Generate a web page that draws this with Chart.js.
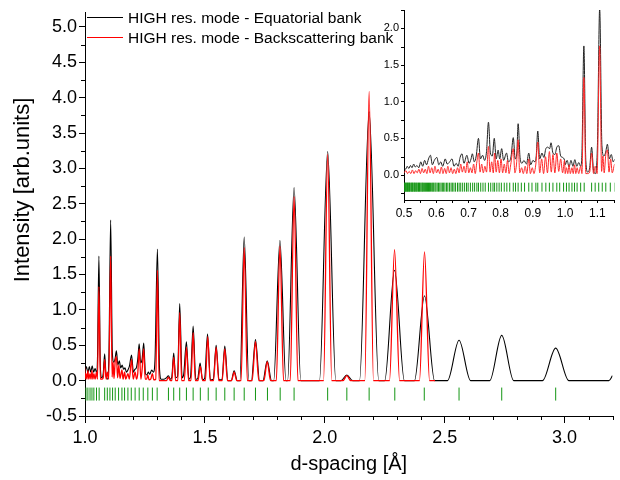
<!DOCTYPE html>
<html>
<head>
<meta charset="utf-8">
<script src="https://cdn.jsdelivr.net/npm/chart.js@4.4.1/dist/chart.umd.min.js"></script>
<style>
  html, body { margin: 0; padding: 0; background: #fff; }
  #wrap { position: relative; width: 620px; height: 480px; }
  #main { position: absolute; left: 0; top: 0; }
  #inset { position: absolute; left: 360px; top: 0; }
</style>
</head>
<body>
<div id="wrap">
  <canvas id="main" width="620" height="480"></canvas>
  <canvas id="inset" width="260" height="230"></canvas>
</div>
<script>
// [d-spacing, intensity]
const equatorial = [
  [0.500,0.10],[0.505,0.08],[0.510,0.12],[0.515,0.09],[0.520,0.13],[0.525,0.10],[0.530,0.15],[0.535,0.11],
  [0.540,0.13],[0.546,0.10],[0.552,0.18],[0.558,0.12],[0.564,0.20],[0.570,0.14],[0.576,0.22],[0.582,0.27],
  [0.588,0.14],[0.594,0.20],[0.602,0.24],[0.608,0.14],[0.614,0.18],[0.620,0.12],[0.628,0.22],[0.634,0.15],
  [0.640,0.17],[0.649,0.22],[0.655,0.12],[0.662,0.16],[0.668,0.12],[0.674,0.24],[0.680,0.29],[0.686,0.16],
  [0.695,0.27],[0.702,0.16],[0.708,0.22],[0.712,0.29],[0.718,0.18],[0.724,0.26],[0.731,0.50],[0.737,0.22],
  [0.744,0.27],[0.750,0.20],[0.756,0.32],[0.762,0.72],[0.768,0.30],[0.774,0.26],[0.780,0.50],[0.786,0.22],
  [0.792,0.34],[0.797,0.22],[0.803,0.36],[0.809,0.20],[0.818,0.30],[0.824,0.18],[0.832,0.25],[0.839,0.51],
  [0.845,0.22],[0.850,0.30],[0.854,0.70],[0.860,0.24],[0.866,0.16],[0.872,0.20],[0.880,0.15],[0.887,0.30],
  [0.893,0.14],[0.900,0.20],[0.906,0.18],[0.910,0.25],[0.915,0.60],[0.921,0.22],[0.928,0.30],[0.934,0.24],
  [0.940,0.36],[0.946,0.38],[0.952,0.36],[0.956,0.44],[0.962,0.30],[0.968,0.28],[0.974,0.38],[0.980,0.40],
  [0.986,0.26],[0.992,0.24],[0.998,0.20],
  [1.000,0.14],[1.006,0.20],[1.012,0.11],[1.018,0.20],[1.024,0.12],[1.030,0.21],[1.036,0.12],[1.042,0.17],
  [1.048,0.12],[1.052,0.30],[1.058,1.76],[1.064,0.20],[1.070,0.04],[1.076,0.10],[1.082,0.38],[1.088,0.06],
  [1.094,0.02],[1.100,0.40],[1.107,2.27],[1.114,0.40],[1.120,0.26],[1.125,0.30],[1.131,0.42],[1.137,0.22],
  [1.143,0.28],[1.149,0.18],[1.155,0.22],[1.161,0.16],[1.167,0.18],[1.173,0.12],[1.179,0.15],[1.185,0.20],
  [1.194,0.36],[1.202,0.12],[1.208,0.16],[1.214,0.18],[1.220,0.30],[1.226,0.52],[1.232,0.25],[1.238,0.30],
  [1.245,0.53],[1.252,0.10],[1.258,0.08],[1.264,0.12],[1.270,0.09],[1.278,0.15],[1.285,0.12],[1.292,0.30],
  [1.302,1.86],[1.311,0.15],[1.318,0.02],[1.330,0.02],[1.340,0.04],[1.348,0.07],[1.356,0.02],[1.362,0.05],
  [1.370,0.39],[1.378,0.04],[1.386,0.06],[1.395,1.09],[1.405,0.04],[1.412,0.10],[1.423,0.55],[1.433,0.02],
  [1.440,0.05],[1.451,0.77],[1.462,0.02],[1.470,0.03],[1.480,0.25],[1.490,0.01],[1.499,0.03],[1.511,0.66],
  [1.523,0.01],[1.535,0.02],[1.547,0.50],[1.559,0.01],[1.571,0.01],[1.583,0.49],[1.596,0.00],[1.610,0.00],
  [1.622,0.14],[1.635,0.00],[1.646,0.00],[1.664,2.03],[1.683,0.00],[1.694,0.00],[1.711,0.58],[1.728,0.00],
  [1.742,0.00],[1.760,0.28],[1.778,0.00],[1.787,0.00],[1.813,1.98],[1.838,0.00],[1.845,0.00],[1.872,2.73],
  [1.900,0.00],[1.978,0.00],[2.012,3.24],[2.046,0.00],[2.068,0.00],[2.092,0.08],[2.116,0.00],[2.145,0.00],
  [2.185,3.80],[2.225,0.00],[2.250,0.00],[2.291,1.56],[2.332,0.00],[2.374,0.00],[2.416,1.20],[2.458,0.00],
  [2.512,0.00],[2.560,0.57],[2.608,0.00],[2.688,0.00],[2.738,0.64],[2.788,0.00],[2.908,0.00],[2.963,0.46],
  [3.018,0.00],[3.185,0.00],[3.200,0.07]
];

const backscattering = [
  [0.500,0.03],[0.506,0.06],[0.511,0.02],[0.516,0.05],[0.521,0.02],[0.526,0.07],[0.531,0.02],[0.536,0.06],
  [0.541,0.03],[0.546,0.08],[0.551,0.02],[0.556,0.09],[0.561,0.03],[0.566,0.08],[0.571,0.02],[0.576,0.12],
  [0.581,0.03],[0.586,0.10],[0.591,0.02],[0.596,0.12],[0.601,0.03],[0.606,0.08],[0.611,0.02],[0.616,0.11],
  [0.621,0.02],[0.626,0.09],[0.631,0.02],[0.636,0.12],[0.641,0.03],[0.646,0.10],[0.651,0.02],[0.656,0.08],
  [0.661,0.02],[0.666,0.10],[0.671,0.03],[0.676,0.15],[0.681,0.04],[0.686,0.12],[0.691,0.03],[0.696,0.18],
  [0.701,0.03],[0.706,0.10],[0.711,0.03],[0.716,0.15],[0.721,0.02],[0.726,0.18],[0.731,0.30],[0.736,0.04],
  [0.741,0.15],[0.746,0.03],[0.751,0.12],[0.756,0.04],[0.762,0.39],[0.767,0.04],[0.772,0.18],[0.777,0.03],
  [0.781,0.30],[0.786,0.04],[0.791,0.20],[0.796,0.03],[0.801,0.22],[0.806,0.03],[0.811,0.15],[0.816,0.03],
  [0.821,0.20],[0.826,0.02],[0.831,0.14],[0.839,0.36],[0.844,0.03],[0.849,0.15],[0.854,0.48],[0.859,0.03],
  [0.865,0.10],[0.870,0.02],[0.876,0.12],[0.881,0.02],[0.887,0.22],[0.892,0.02],[0.898,0.10],[0.903,0.02],
  [0.909,0.15],[0.915,0.45],[0.921,0.03],[0.927,0.22],[0.933,0.02],[0.939,0.25],[0.945,0.03],[0.951,0.32],
  [0.957,0.04],[0.962,0.28],[0.968,0.03],[0.974,0.30],[0.980,0.05],[0.986,0.22],[0.992,0.03],[0.998,0.20],
  [1.000,0.02],[1.004,0.10],[1.008,0.02],[1.012,0.14],[1.016,0.02],[1.021,0.10],[1.025,0.02],[1.029,0.14],
  [1.033,0.02],[1.037,0.10],[1.042,0.02],[1.048,0.12],[1.052,0.02],[1.058,1.33],[1.064,0.02],[1.070,0.02],
  [1.076,0.04],[1.082,0.30],[1.088,0.02],[1.093,0.12],[1.099,0.02],[1.107,1.76],[1.113,0.05],[1.117,0.26],
  [1.121,0.03],[1.126,0.28],[1.131,0.34],[1.136,0.04],[1.141,0.22],[1.146,0.03],[1.154,0.15],[1.159,0.02],
  [1.165,0.12],[1.170,0.02],[1.179,0.10],[1.185,0.02],[1.194,0.30],[1.201,0.02],[1.209,0.12],[1.215,0.02],
  [1.220,0.10],[1.226,0.45],[1.233,0.02],[1.238,0.15],[1.245,0.45],[1.251,0.02],[1.257,0.02],[1.262,0.08],
  [1.267,0.01],[1.274,0.02],[1.281,0.10],[1.287,0.01],[1.295,0.02],[1.302,1.56],[1.309,0.00],[1.340,0.00],
  [1.348,0.05],[1.356,0.00],[1.362,0.00],[1.370,0.33],[1.378,0.00],[1.387,0.00],[1.395,0.96],[1.403,0.00],
  [1.414,0.00],[1.423,0.47],[1.432,0.00],[1.442,0.00],[1.451,0.68],[1.460,0.00],[1.471,0.00],[1.481,0.20],
  [1.491,0.00],[1.502,0.00],[1.512,0.62],[1.522,0.00],[1.536,0.00],[1.547,0.47],[1.558,0.00],[1.572,0.00],
  [1.583,0.45],[1.594,0.00],[1.611,0.00],[1.622,0.12],[1.633,0.00],[1.651,0.00],[1.664,1.88],[1.677,0.00],
  [1.697,0.00],[1.711,0.55],[1.725,0.00],[1.746,0.00],[1.760,0.27],[1.774,0.00],[1.798,0.00],[1.813,1.90],
  [1.828,0.00],[1.856,0.00],[1.872,2.60],[1.888,0.00],[1.995,0.00],[2.012,3.20],[2.029,0.00],[2.076,0.00],
  [2.092,0.07],[2.108,0.00],[2.167,0.00],[2.185,4.09],[2.203,0.00],[2.270,0.00],[2.291,1.85],[2.312,0.00],
  [2.395,0.00],[2.416,1.82],[2.437,0.00],[2.460,0.00]
];

// Bragg reflection positions (green ticks)
const braggD = [
  0.501,0.503,0.505,0.507,0.509,0.511,0.513,0.515,0.517,0.519,0.522,0.524,0.526,0.528,0.531,0.533,0.535,
  0.538,0.540,0.543,0.545,0.548,0.550,0.553,0.556,0.558,0.561,0.564,0.567,0.570,0.573,0.576,0.579,0.582,
  0.586,0.589,0.592,0.596,0.599,0.603,0.607,0.611,0.615,0.619,0.623,0.627,0.632,0.636,0.641,0.646,0.650,
  0.655,0.660,0.666,0.671,0.676,0.682,0.688,0.694,0.699,0.706,0.713,0.719,0.726,0.731,0.738,0.745,0.752,
  0.762,0.769,0.776,0.781,0.788,0.795,0.802,0.811,0.819,0.828,0.839,0.846,0.854,0.864,0.874,0.887,0.897,
  0.909,0.915,0.928,0.940,0.951,0.962,0.974,0.983,0.995,
  1.004,1.012,1.021,1.029,1.037,1.048,1.059,1.082,1.093,1.104,1.115,1.126,1.140,1.154,1.165,1.179,1.193,
  1.209,1.226,1.243,1.262,1.281,1.301,1.348,1.370,1.395,1.423,1.451,1.481,1.514,1.547,1.583,1.622,1.664,
  1.711,1.761,1.814,1.872,2.012,2.092,2.185,2.292,2.415,2.560,2.738,2.963
];

const mainXTicks = [1.0, 1.5, 2.0, 2.5, 3.0];
const mainYTicks = [-0.5, 0, 0.5, 1.0, 1.5, 2.0, 2.5, 3.0, 3.5, 4.0, 4.5, 5.0];
const insetXTicks = [0.5, 0.6, 0.7, 0.8, 0.9, 1.0, 1.1];
const insetYTicks = [0, 0.5, 1.0, 1.5, 2.0];
const legendLabels = ['HIGH res. mode - Equatorial bank', 'HIGH res. mode - Backscattering bank'];

const FONT = '"Liberation Sans", Arial, sans-serif';
const GREEN = 'rgb(20,150,20)';

const toXY = arr => arr.map(p => ({x: p[0], y: p[1]}));

function lineSet(data, color, width, order) {
  return {
    data: toXY(data), borderColor: color, borderWidth: width, pointRadius: 0,
    cubicInterpolationMode: 'monotone', fill: false, order: order
  };
}
function tickSet(yLevel, radius) {
  return {
    data: braggD.map(d => ({x: d, y: yLevel})), showLine: false,
    pointStyle: 'line', rotation: 90, pointRadius: radius, pointHoverRadius: radius,
    borderColor: GREEN, borderWidth: 1, order: 3
  };
}

// minor ticks (outside), drawn with the chart's own scales
const minorTicks = {
  id: 'minorTicks',
  afterDraw(chart, args, opts) {
    const {ctx, chartArea} = chart;
    const xs = chart.scales.x, ys = chart.scales.y;
    ctx.save();
    ctx.strokeStyle = '#000';
    ctx.lineWidth = 1;
    ctx.beginPath();
    opts.x.forEach(v => {
      const px = Math.round(xs.getPixelForValue(v)) + 0.5;
      ctx.moveTo(px, chartArea.bottom);
      ctx.lineTo(px, chartArea.bottom + opts.len);
    });
    opts.y.forEach(v => {
      const py = Math.round(ys.getPixelForValue(v)) + 0.5;
      ctx.moveTo(chartArea.left, py);
      ctx.lineTo(chartArea.left - opts.len, py);
    });
    ctx.stroke();
    ctx.restore();
  }
};

const legendAndTitle = {
  id: 'legendAndTitle',
  afterDraw(chart) {
    const ctx = chart.ctx;
    ctx.save();
    const colors = ['#000', 'rgb(255,0,0)'];
    ctx.font = '15.5px ' + FONT;
    ctx.textBaseline = 'middle';
    ctx.fillStyle = '#000';
    legendLabels.forEach((t, i) => {
      const y = 17.5 + i * 20;
      ctx.strokeStyle = colors[i];
      ctx.lineWidth = 1;
      ctx.beginPath();
      ctx.moveTo(87, y); ctx.lineTo(123, y);
      ctx.stroke();
      ctx.fillText(t, 128, y + 1);
    });
    // y axis title
    ctx.translate(23, 190);
    ctx.rotate(-Math.PI / 2);
    ctx.textAlign = 'center';
    ctx.font = '22px ' + FONT;
    ctx.fillText('Intensity [arb.units]', 0, 0);
    ctx.restore();
  }
};

const xMinor = [], yMinor = [];
for (let v = 1.1; v < 3.21; v += 0.1) {
  if (Math.abs(v * 2 - Math.round(v * 2)) > 1e-6) xMinor.push(v);
}
for (let v = -0.25; v < 5.2; v += 0.5) yMinor.push(v);

new Chart(document.getElementById('main'), {
  type: 'line',
  data: {
    datasets: [
      lineSet(backscattering, 'rgb(255,0,0)', 1.3, 1),
      lineSet(equatorial, '#000', 1.1, 2),
      tickSet(-0.19, 6.5)
    ]
  },
  options: {
    responsive: false, animation: false, devicePixelRatio: 1,
    layout: {padding: {left: 0, right: 6, top: 12, bottom: 0}},
    plugins: {
      legend: {display: false}, tooltip: {enabled: false},
      minorTicks: {x: xMinor, y: yMinor, len: 4}
    },
    scales: {
      x: {
        type: 'linear', min: 1.0, max: 3.2,
        afterBuildTicks: s => { s.ticks = mainXTicks.map(v => ({value: v})); },
        afterFit: s => { s.height = 64; },
        grid: {drawOnChartArea: false, tickLength: 7, tickColor: '#000'},
        border: {color: '#000', width: 1},
        ticks: {font: {family: FONT, size: 18}, color: '#000', padding: 4, maxRotation: 0,
                callback: v => v.toFixed(1)},
        title: {display: true, text: 'd-spacing [Å]', color: '#000',
                font: {family: FONT, size: 20}, padding: {top: 0, bottom: 4}}
      },
      y: {
        type: 'linear', min: -0.5, max: 5.2,
        afterBuildTicks: s => { s.ticks = mainYTicks.map(v => ({value: v})); },
        afterFit: s => { s.width = 85; },
        grid: {drawOnChartArea: false, tickLength: 6, tickColor: '#000'},
        border: {color: '#000', width: 1},
        ticks: {font: {family: FONT, size: 18}, color: '#000', padding: 2,
                callback: v => v.toFixed(1)}
      }
    }
  },
  plugins: [minorTicks, legendAndTitle]
});

new Chart(document.getElementById('inset'), {
  type: 'line',
  data: {
    datasets: [
      lineSet(backscattering, 'rgb(255,40,40)', 1, 1),
      lineSet(equatorial, '#222', 1, 2),
      tickSet(-0.165, 4.5)
    ]
  },
  options: {
    responsive: false, animation: false, devicePixelRatio: 1,
    layout: {padding: {left: 0, right: 2, top: 10, bottom: 0}},
    plugins: {
      legend: {display: false}, tooltip: {enabled: false},
      minorTicks: {x: [0.55, 0.65, 0.75, 0.85, 0.95, 1.05, 1.15], y: [-0.25, 0.25, 0.75, 1.25, 1.75, 2.25], len: 3}
    },
    scales: {
      x: {
        type: 'linear', min: 0.5, max: 1.153,
        afterBuildTicks: s => { s.ticks = insetXTicks.map(v => ({value: v})); },
        afterFit: s => { s.height = 30; },
        grid: {drawOnChartArea: false, tickLength: 3, tickColor: '#000'},
        border: {color: '#000', width: 1},
        ticks: {font: {family: FONT, size: 12}, color: '#000', padding: 3, maxRotation: 0,
                callback: v => v.toFixed(1)}
      },
      y: {
        type: 'linear', min: -0.34, max: 2.25,
        afterBuildTicks: s => { s.ticks = insetYTicks.map(v => ({value: v})); },
        afterFit: s => { s.width = 44; },
        grid: {drawOnChartArea: false, tickLength: 3, tickColor: '#000'},
        border: {color: '#000', width: 1},
        ticks: {font: {family: FONT, size: 11}, color: '#000', padding: 2,
                callback: v => v.toFixed(1)}
      }
    }
  },
  plugins: [minorTicks]
});
</script>
</body>
</html>
